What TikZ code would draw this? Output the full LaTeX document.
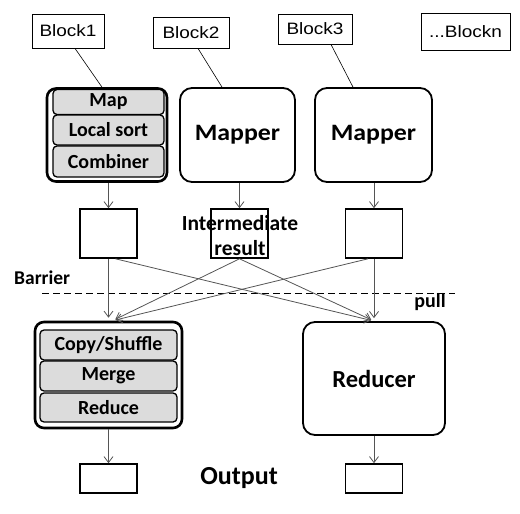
\documentclass[tikz,border=0pt]{standalone}
\usepackage{fontspec}
\setmainfont{Carlito}
\newfontfamily\widefont[FakeStretch=1.1]{Carlito}
\newfontfamily\arialfont[FakeStretch=1.15]{Liberation Sans}
\usetikzlibrary{arrows.meta}
\definecolor{boxgray}{HTML}{DCDCDC}
\definecolor{linegray}{HTML}{555555}
\begin{document}
\begin{tikzpicture}[x=1pt,y=-1pt,
  blk/.style={draw,line width=0.8pt,inner sep=0pt,font=\arialfont\fontsize{16.5}{18}\selectfont},
  outerbox/.style={draw,line width=2.6pt,rounded corners=9pt,inner sep=0pt},
  mapbox/.style={draw,line width=1.8pt,rounded corners=12pt,inner sep=0pt,font=\widefont\bfseries\fontsize{23.5}{26}\selectfont},
  stagebox/.style={draw,line width=1.3pt,rounded corners=4pt,fill=boxgray,inner sep=0pt,font=\bfseries\fontsize{20}{22}\selectfont},
  databox/.style={draw,line width=1.6pt,inner sep=0pt},
  conn/.style={draw,line width=0.6pt},
  arr/.style={draw=linegray,line width=0.8pt,-{Straight Barb[length=6pt,width=9pt]}},
  lbl/.style={inner sep=0pt,font=\bfseries\fontsize{19.5}{22}\selectfont}
]
\useasboundingbox (0,0) rectangle (520,514);

% input blocks
\node[blk,minimum width=72pt,minimum height=34pt] (b1) at (68,31) {Block1};
\node[blk,minimum width=76pt,minimum height=31pt] (b2) at (191,32.5) {Block2};
\node[blk,minimum width=74pt,minimum height=30pt] (b3) at (315,29) {Block3};
\node[blk,minimum width=89pt,minimum height=37pt] (bn) at (465.5,31.5) {...Blockn};

% mappers
\node[outerbox,minimum width=120pt,minimum height=93pt] (m1) at (107,135) {};
\node[stagebox,minimum width=111pt,minimum height=25pt] (map) at (108.5,102) {Map};
\node[stagebox,minimum width=111pt,minimum height=30pt] (ls) at (108.5,130) {Local sort};
\node[stagebox,minimum width=111pt,minimum height=31pt] (cb) at (108.5,161.5) {Combiner};
\node[mapbox,minimum width=115pt,minimum height=94pt] (m2) at (237.5,135) {Mapper};
\node[mapbox,minimum width=117pt,minimum height=94pt] (m3) at (373.5,135) {Mapper};

\draw[conn] ([xshift=7pt]b1.south) -- ([xshift=-5pt]m1.north);
\draw[conn] ([xshift=7pt]b2.south) -- ([xshift=-15.5pt]m2.north);
\draw[conn] ([xshift=16pt]b3.south) -- ([xshift=-20.5pt]m3.north);

% intermediate results
\node[databox,minimum width=57pt,minimum height=49pt] (i1) at (108.5,233.5) {};
\node[databox,minimum width=57pt,minimum height=49pt] (i2) at (239.5,233.5) {};
\node[databox,minimum width=57pt,minimum height=49pt] (i3) at (374,233.5) {};
\node[lbl,align=center,font=\bfseries\fontsize{21.5}{25}\selectfont] (it) at (240,236) {Intermediate\\result};

\draw[arr] (i1.north |- m1.south) -- (i1.north);
\draw[arr] (i2.north |- m2.south) -- (i2.north);
\draw[arr] (i3.north |- m3.south) -- (i3.north);

% barrier
\node[lbl,anchor=west] (bar) at (14,278) {Barrier};
\node[lbl,font=\bfseries\fontsize{20}{22}\selectfont] (pull) at (430,302) {pull};
\draw[dashed,line width=0.6pt,dash pattern=on 7pt off 4pt] (42,293) -- (455,293);

% reducers
\node[outerbox,minimum width=147pt,minimum height=106pt] (r1) at (108.5,375) {};
\node[stagebox,minimum width=137pt,minimum height=30pt] (cs) at (108.5,345) {Copy/Shuffle};
\node[stagebox,minimum width=137pt,minimum height=30pt] (mg) at (108.5,376) {Merge};
\node[stagebox,minimum width=137pt,minimum height=29pt] (rd) at (108.5,407.5) {Reduce};
\node[mapbox,minimum width=142pt,minimum height=113pt,font=\bfseries\fontsize{24.5}{26}\selectfont] (r2) at (374,378.5) {Reducer};

% shuffle connections
\draw[arr,shorten >=3pt] (i1.south) -- (r1.north);
\draw[arr,shorten >=3pt] ([xshift=7pt]i1.south) -- (r2.north);
\draw[arr,shorten >=3pt] (i2.south) -- ([xshift=4pt]r1.north);
\draw[arr,shorten >=3pt] (i2.south) -- (r2.north);
\draw[arr,shorten >=3pt] (i3.south) -- (r2.north);
\draw[arr,shorten >=3pt] ([xshift=-6pt]i3.south) -- ([xshift=4pt]r1.north);

% outputs
\node[databox,minimum width=57pt,minimum height=29pt] (o1) at (108.5,478.5) {};
\node[databox,minimum width=57pt,minimum height=29pt] (o2) at (374,478.5) {};
\node[lbl,font=\bfseries\fontsize{26}{28}\selectfont] (out) at (239,478) {Output};
\draw[arr] (o1.north |- r1.south) -- (o1.north);
\draw[arr] (o2.north |- r2.south) -- (o2.north);
\end{tikzpicture}
\end{document}
